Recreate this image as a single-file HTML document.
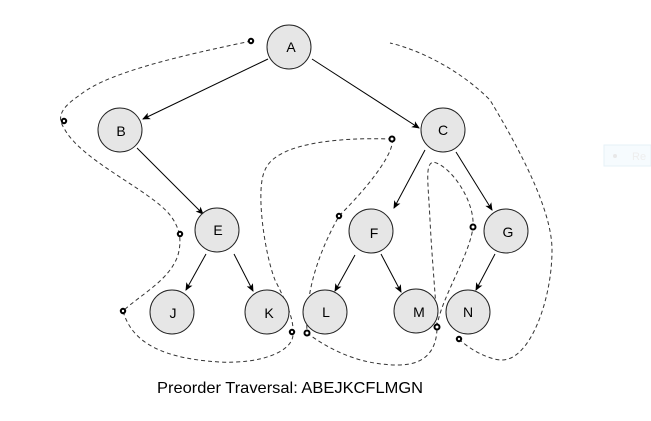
<!DOCTYPE html>
<html><head><meta charset="utf-8"><style>
html,body{margin:0;padding:0;background:#fff;}
svg{display:block;}
</style></head><body>
<svg width="651" height="421" viewBox="0 0 651 421" xmlns="http://www.w3.org/2000/svg">
<defs>
<marker id="ar" markerWidth="8" markerHeight="8" refX="7" refY="4" orient="auto" markerUnits="userSpaceOnUse">
<path d="M0,0.5 L8,4 L0,7.5 L2,4 Z" fill="#000"/>
</marker>
</defs>
<!-- faint widget -->
<rect x="604" y="145" width="47" height="21" fill="#f6fbfe" stroke="#e6f0f7"/>
<circle cx="615" cy="156" r="2" fill="#e8e8e8"/>
<text x="632" y="160" font-family="Liberation Sans, sans-serif" font-size="11" fill="#eee">Re</text>

<!-- edges -->
<g stroke="#000" stroke-width="1" marker-end="url(#ar)">
<line x1="268" y1="59" x2="143" y2="119"/>
<line x1="312" y1="59" x2="419" y2="128"/>
<line x1="137" y1="148" x2="203" y2="214"/>
<line x1="425" y1="150" x2="394" y2="208"/>
<line x1="456" y1="152" x2="492" y2="210"/>
<line x1="206" y1="254" x2="186" y2="290"/>
<line x1="234" y1="254" x2="253" y2="291"/>
<line x1="355" y1="255" x2="335" y2="291"/>
<line x1="381" y1="254" x2="401" y2="292"/>
<line x1="495" y1="254" x2="476" y2="290"/>
</g>

<!-- dashed paths -->
<g fill="none" stroke="#333" stroke-width="1" stroke-dasharray="4,3">
<path d="M251,41 C200,52 110,70 80,95 C65,105 55,115 64,128 C80,160 150,190 170,215 C180,228 182,240 178,255 C170,280 140,295 123,311 C130,335 150,358 220,362 C260,364 292,352 293,335"/>
<path d="M293,333 C294,318 285,300 275,280 C265,255 255,190 265,170 C275,145 330,137 392,139"/>
<path d="M392,139 C395,150 375,180 339,216 C320,250 305,290 307,333"/>
<path d="M307,333 C330,350 360,365 398,365 C430,365 437,345 437,327"/>
<path d="M437,327 C440,300 470,255 473,227 C475,200 450,165 433,162 C425,165 428,180 430,220 C432,260 436,300 437,327"/>
<path d="M459,339 C470,350 490,360 502,360 C530,360 552,300 552,250 C552,210 520,150 490,100 C460,70 420,50 390,43"/>
</g>

<!-- dots -->
<g fill="#fff" stroke="#000" stroke-width="2">
<circle cx="251" cy="41" r="2.2"/>
<circle cx="64" cy="121" r="2.2"/>
<circle cx="180" cy="234" r="2.2"/>
<circle cx="123" cy="311" r="2.2"/>
<circle cx="292" cy="332" r="2.2"/>
<circle cx="392" cy="139" r="2.5"/>
<circle cx="339" cy="216" r="2.2"/>
<circle cx="307" cy="333" r="2.5"/>
<circle cx="437" cy="327" r="2.5"/>
<circle cx="473" cy="227" r="2.5"/>
<circle cx="459" cy="339" r="2.2"/>
</g>

<!-- nodes -->
<g fill="#e6e6e6" stroke="#222" stroke-width="1">
<circle cx="289" cy="47" r="22"/>
<circle cx="120" cy="130" r="22"/>
<circle cx="443" cy="130" r="22"/>
<circle cx="217" cy="230" r="22"/>
<circle cx="371" cy="231" r="22"/>
<circle cx="506" cy="231" r="22"/>
<circle cx="172" cy="312" r="22"/>
<circle cx="267" cy="312" r="22"/>
<circle cx="325" cy="312" r="22"/>
<circle cx="416" cy="311" r="22"/>
<circle cx="468" cy="312" r="22"/>
</g>
<g font-family="Liberation Sans, sans-serif" font-size="14" fill="#000" text-anchor="middle">
<text x="291" y="52">A</text>
<text x="121" y="136">B</text>
<text x="443" y="135">C</text>
<text x="218" y="235">E</text>
<text x="374" y="238">F</text>
<text x="508" y="237">G</text>
<text x="173" y="318">J</text>
<text x="269" y="318">K</text>
<text x="326" y="317">L</text>
<text x="419" y="317">M</text>
<text x="468" y="317">N</text>
</g>
<text x="157" y="393" font-family="Liberation Sans, sans-serif" font-size="16" fill="#000" textLength="266" lengthAdjust="spacingAndGlyphs">Preorder Traversal: ABEJKCFLMGN</text>
</svg>
</body></html>
